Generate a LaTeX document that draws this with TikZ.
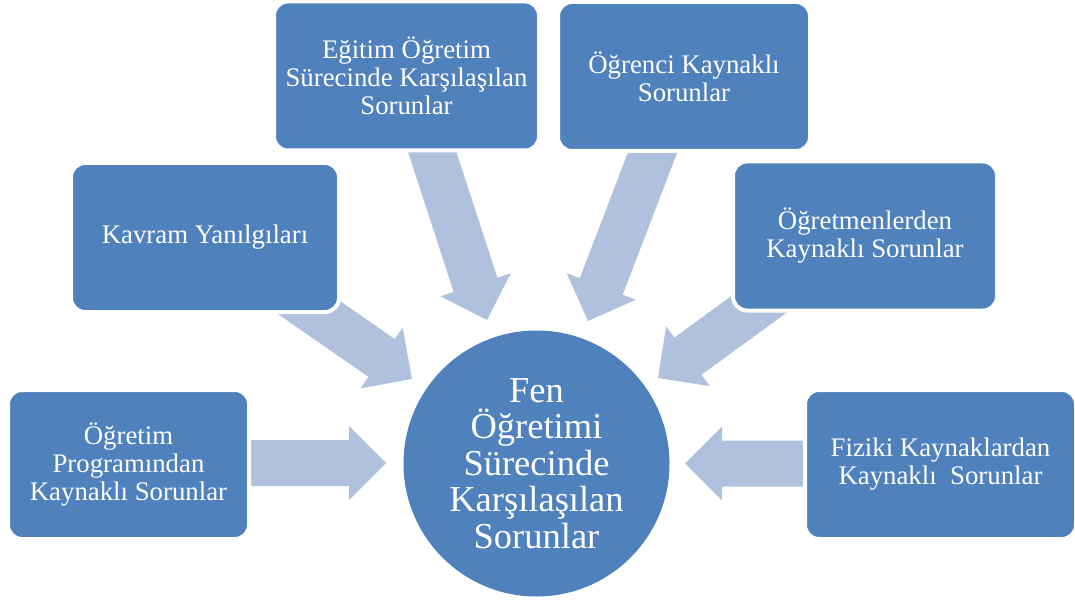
\documentclass[tikz,border=0pt]{standalone}
\usepackage{fontspec}
\setmainfont{Liberation Serif}
\usetikzlibrary{calc}
\definecolor{boxblue}{RGB}{79,129,189}
\definecolor{arrowblue}{RGB}{176,193,221}
\newcommand{\blockarrow}[3]{% #1 name, #2 tail, #3 tip
  \coordinate (#1-b) at ($(#3)!37pt!(#2)$);
  \fill[arrowfill] (#3) -- ($(#1-b)!37pt!90:(#3)$) -- ($(#1-b)!23pt!90:(#3)$)
    -- ($(#2)!23pt!90:(#3)$) -- ($(#2)!23pt!-90:(#3)$)
    -- ($(#1-b)!23pt!-90:(#3)$) -- ($(#1-b)!37pt!-90:(#3)$) -- cycle;
}
\tikzset{
  arrowfill/.style={fill=arrowblue},
  box/.style={rectangle, rounded corners=14pt, fill=boxblue, draw=white,
    line width=4pt, inner sep=0pt, minimum height=149pt, text=white,
    align=center, font=\fontsize{26.8}{28}\selectfont},
  hub/.style={circle, fill=boxblue, inner sep=0pt, minimum size=266pt,
    text=white, align=center, font=\fontsize{36.5}{36.6}\selectfont}
}
\begin{document}
\begin{tikzpicture}[x=1pt,y=-1pt]
\useasboundingbox (0,0) rectangle (1075,601);
% arrow end points
\coordinate (tA) at (230,463);   \coordinate (pA) at (386,463);
\coordinate (tB) at (264,276.4); \coordinate (pB) at (412,379);
\coordinate (tC) at (425,129.8); \coordinate (pC) at (487,320);
\coordinate (tD) at (659.6,134.2); \coordinate (pD) at (588,321);
\coordinate (tE) at (803.4,272); \coordinate (pE) at (658,378);
\coordinate (tF) at (830,463.5); \coordinate (pF) at (685,463.5);
\blockarrow{aA}{tA}{pA}
\blockarrow{aB}{tB}{pB}
\blockarrow{aC}{tC}{pC}
\blockarrow{aD}{tD}{pD}
\blockarrow{aE}{tE}{pE}
\blockarrow{aF}{tF}{pF}
% boxes
\node[box, minimum width=241pt] (A) at (128.5,464.5) {Öğretim\\Programından\\Kaynaklı Sorunlar};
\node[box, minimum width=268pt] (B) at (205,237.5) {Kavram Yanılgıları};
\node[box, minimum width=265pt] (C) at (406.5,76) {Eğitim Öğretim\\Sürecinde Karşılaşılan\\Sorunlar};
\node[box, minimum width=252pt] (D) at (684,76.5) {Öğrenci Kaynaklı\\Sorunlar};
\node[box, minimum width=264pt] (E) at (865,236) {Öğretmenlerden\\Kaynaklı Sorunlar};
\node[box, minimum width=271pt] (F) at (940.5,464.5) {Fiziki Kaynaklardan\\Kaynaklı\ \ Sorunlar};
% hub
\node[hub] (H) at (536.5,463.5) {Fen\\Öğretimi\\Sürecinde\\Karşılaşılan\\Sorunlar};
\end{tikzpicture}
\end{document}
